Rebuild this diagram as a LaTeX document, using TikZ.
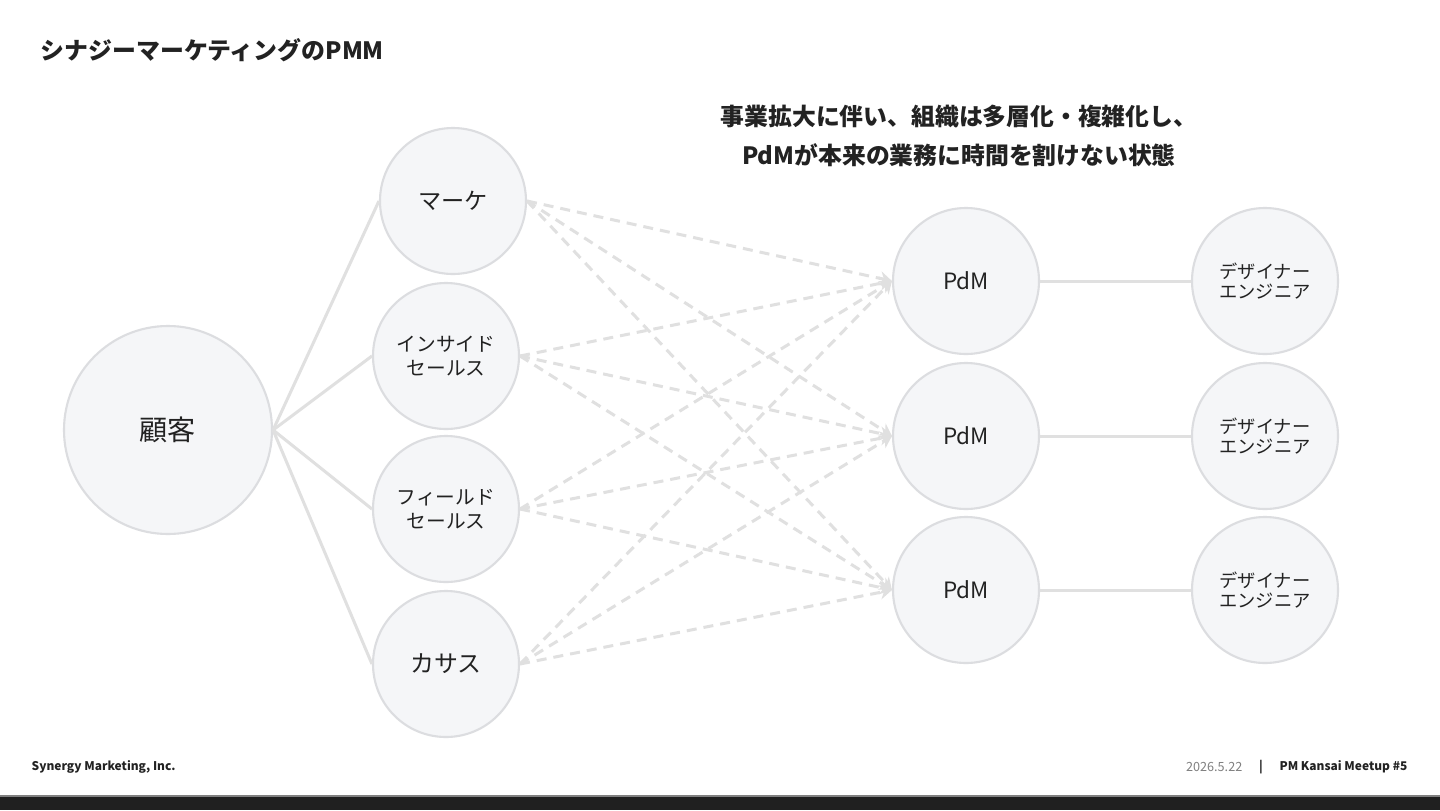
\documentclass[tikz,border=0pt]{standalone}
\usepackage{fontspec}
\setmainfont{Noto Sans CJK JP}
\usetikzlibrary{arrows.meta}

\definecolor{textdark}{HTML}{222222}
\definecolor{circlefill}{HTML}{F5F6F8}
\definecolor{circleline}{HTML}{DCDDE0}
\definecolor{linkgray}{HTML}{E0E0E0}
\definecolor{footbar}{HTML}{202020}

\tikzset{
	bubble/.style={
		circle,
		draw=circleline,
		fill=circlefill,
		line width=0.6pt,
		text=textdark,
		align=center,
		inner sep=0pt
	},
	bigbubble/.style={
		bubble,
		minimum size=2.08cm,
		font=\fontsize{8}{9}\selectfont
	},
	smallbubble/.style={
		bubble,
		minimum size=1.46cm,
		font=\fontsize{5.6}{6.8}\selectfont
	},
	solidlink/.style={
		draw=linkgray,
		line width=0.85pt
	},
	dashlink/.style={
		draw=linkgray,
		line width=0.85pt,
		dash pattern=on 0.1cm off 0.07cm,
		-{Stealth[length=0.12cm,width=0.14cm]}
	},
	plaintext/.style={
		inner sep=0pt,
		text=textdark
	}
}

\begin{document}
\begin{tikzpicture}
	\useasboundingbox (0,0) rectangle (14.4,8.1);
	% Hintergrund
	\fill[white] (0,0) rectangle (14.4,8.1);
	% Fussleiste
	\fill[footbar] (0,0) rectangle (14.4,0.14);
	\draw[color=gray, line width=0.3pt] (0,0.14) -- (14.4,0.14);
	% Titel
	\node[
		plaintext,
		anchor=west,
		font=\fontsize{6.8}{8}\selectfont\bfseries
	] (title) at (0.40,7.6) {シナジーマーケティングのPMM};
	% Aussage
	\node[
		plaintext,
		align=center,
		font=\fontsize{6.78}{11.2}\selectfont\bfseries
	] (headline) at (9.59,6.74) {事業拡大に伴い、組織は多層化・複雑化し、\\PdMが本来の業務に時間を割けない状態};
	% Kunde
	\node[bigbubble] (kokyaku) at (1.68,3.80) {顧客};
	% Vertrieb
	\node[smallbubble, font=\fontsize{6.6}{8}\selectfont] (mkt) at (4.53,6.09) {マーケ};
	\node[smallbubble] (isales) at (4.46,4.54) {インサイド\\セールス};
	\node[smallbubble] (fsales) at (4.46,3.01) {フィールド\\セールス};
	\node[smallbubble, font=\fontsize{6.8}{8}\selectfont] (cs) at (4.46,1.46) {カサス};
	% PdM
	\node[smallbubble, font=\fontsize{6.4}{8}\selectfont] (pdm1) at (9.66,5.29) {PdM};
	\node[smallbubble, font=\fontsize{6.4}{8}\selectfont] (pdm2) at (9.66,3.74) {PdM};
	\node[smallbubble, font=\fontsize{6.4}{8}\selectfont] (pdm3) at (9.66,2.20) {PdM};
	% Design / Entwicklung
	\node[smallbubble, font=\fontsize{5.2}{5.9}\selectfont] (dsgn1) at (12.65,5.29) {デザイナー\\エンジニア};
	\node[smallbubble, font=\fontsize{5.2}{5.9}\selectfont] (dsgn2) at (12.65,3.74) {デザイナー\\エンジニア};
	\node[smallbubble, font=\fontsize{5.2}{5.9}\selectfont] (dsgn3) at (12.65,2.20) {デザイナー\\エンジニア};
	% Kunde -> Vertrieb
	\foreach \s in {mkt,isales,fsales,cs}
		\draw[solidlink] (kokyaku.east) -- (\s.west);
	% Vertrieb -> PdM
	\foreach \s in {mkt,isales,fsales,cs}
		\foreach \t in {pdm1,pdm2,pdm3}
			\draw[dashlink] (\s.east) -- (\t.west);
	% PdM -> Design
	\foreach \i in {1,2,3}
		\draw[solidlink] (pdm\i.east) -- (dsgn\i.west);
	% Fusszeile
	\node[
		plaintext,
		anchor=west,
		font=\fontsize{3.4}{4}\selectfont\bfseries
	] (company) at (0.31,0.43) {Synergy Marketing, Inc.};
	\node[
		plaintext,
		anchor=east,
		font=\fontsize{3.4}{4}\selectfont\bfseries
	] (event) at (14.08,0.43) {PM Kansai Meetup \#5};
	\node[
		plaintext,
		font=\fontsize{3.4}{4}\selectfont\bfseries
	] (sep) at (12.61,0.43) {|};
	\node[
		plaintext,
		anchor=east,
		text=gray,
		font=\fontsize{3.6}{4}\selectfont
	] (date) at (12.43,0.43) {2026.5.22};
\end{tikzpicture}
\end{document}
